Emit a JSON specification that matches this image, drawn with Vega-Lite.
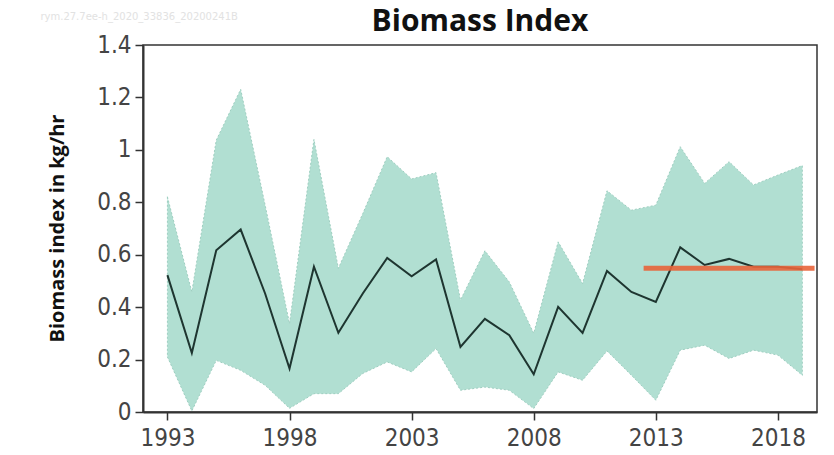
{
  "$schema": "https://vega.github.io/schema/vega-lite/v6.json",
  "width": 674,
  "height": 367,
  "autosize": {"type": "none"},
  "padding": {"left": 143, "top": 45, "right": 17, "bottom": 43},
  "background": "white",
  "title": {
    "text": "Biomass Index",
    "font": "Open Sans",
    "fontSize": 30,
    "fontWeight": "bold",
    "color": "#111",
    "anchor": "middle",
    "baseline": "alphabetic",
    "offset": 14,
    "dy": 63
  },
  "config": {
    "view": {"stroke": "#333", "strokeWidth": 1.5},
    "axis": {
      "grid": false,
      "domainColor": "#333",
      "domainWidth": 2,
      "tickColor": "#333",
      "tickWidth": 1.5,
      "tickSize": 8,
      "labelFont": "Liberation Sans Narrow, DejaVu Sans Condensed, sans-serif",
      "labelFontSize": 24,
      "labelColor": "#444"
    }
  },
  "data": {
    "values": [
      {"year": 1993, "mean": 0.522, "lo": 0.21, "hi": 0.821},
      {"year": 1994, "mean": 0.225, "lo": 0.004, "hi": 0.458},
      {"year": 1995, "mean": 0.617, "lo": 0.197, "hi": 1.037},
      {"year": 1996, "mean": 0.696, "lo": 0.159, "hi": 1.231},
      {"year": 1997, "mean": 0.452, "lo": 0.102, "hi": 0.79},
      {"year": 1998, "mean": 0.166, "lo": 0.014, "hi": 0.337},
      {"year": 1999, "mean": 0.554, "lo": 0.07, "hi": 1.04},
      {"year": 2000, "mean": 0.302, "lo": 0.07, "hi": 0.548},
      {"year": 2001, "mean": 0.452, "lo": 0.147, "hi": 0.757},
      {"year": 2002, "mean": 0.588, "lo": 0.191, "hi": 0.974},
      {"year": 2003, "mean": 0.518, "lo": 0.153, "hi": 0.889},
      {"year": 2004, "mean": 0.582, "lo": 0.242, "hi": 0.913},
      {"year": 2005, "mean": 0.248, "lo": 0.083, "hi": 0.427},
      {"year": 2006, "mean": 0.355, "lo": 0.095, "hi": 0.615},
      {"year": 2007, "mean": 0.293, "lo": 0.083, "hi": 0.496},
      {"year": 2008, "mean": 0.144, "lo": 0.013, "hi": 0.3},
      {"year": 2009, "mean": 0.401, "lo": 0.153, "hi": 0.649},
      {"year": 2010, "mean": 0.302, "lo": 0.121, "hi": 0.49},
      {"year": 2011, "mean": 0.538, "lo": 0.233, "hi": 0.844},
      {"year": 2012, "mean": 0.458, "lo": 0.14, "hi": 0.77},
      {"year": 2013, "mean": 0.42, "lo": 0.045, "hi": 0.789},
      {"year": 2014, "mean": 0.628, "lo": 0.236, "hi": 1.012},
      {"year": 2015, "mean": 0.561, "lo": 0.255, "hi": 0.872},
      {"year": 2016, "mean": 0.584, "lo": 0.204, "hi": 0.955},
      {"year": 2017, "mean": 0.554, "lo": 0.236, "hi": 0.866},
      {"year": 2018, "mean": 0.554, "lo": 0.217, "hi": 0.904},
      {"year": 2019, "mean": 0.545, "lo": 0.14, "hi": 0.94}
    ]
  },
  "encoding": {
    "x": {
      "field": "year",
      "type": "quantitative",
      "scale": {"domain": [1992, 2019.6], "nice": false, "zero": false},
      "axis": {"values": [1993, 1998, 2003, 2008, 2013, 2018], "format": "d", "title": null, "labelPadding": 6}
    }
  },
  "layer": [
    {
      "mark": {"type": "area", "color": "#b1dfd2", "opacity": 1, "stroke": "#9fcfc1", "strokeWidth": 1, "strokeDash": [2, 2]},
      "encoding": {
        "y": {
          "field": "hi",
          "type": "quantitative",
          "scale": {"domain": [0, 1.4], "nice": false},
          "axis": {
            "values": [0, 0.2, 0.4, 0.6, 0.8, 1, 1.2, 1.4],
            "format": ".1~f",
            "labelPadding": 4,
            "title": "Biomass index in kg/hr",
            "titleFont": "Open Sans",
            "titleFontSize": 20,
            "titleFontWeight": "bold",
            "titleColor": "#111",
            "titleAngle": -90,
            "titleAlign": "center",
            "titleBaseline": "alphabetic",
            "titleX": -80,
            "titleY": 183
          }
        },
        "y2": {"field": "lo"}
      }
    },
    {
      "mark": {"type": "line", "color": "#1e3530", "strokeWidth": 2},
      "encoding": {"y": {"field": "mean", "type": "quantitative"}}
    },
    {
      "data": {"values": [{"year": 2012.5, "ref": 0.548}, {"year": 2019.5, "ref": 0.548}]},
      "mark": {"type": "line", "color": "#e8643a", "strokeWidth": 5, "opacity": 0.9},
      "encoding": {"y": {"field": "ref", "type": "quantitative"}}
    },
    {
      "data": {"values": [{"year": 1987.8, "pos": 1.507, "label": "rym.27.7ee-h_2020_33836_20200241B"}]},
      "mark": {"type": "text", "align": "left", "baseline": "middle", "fontSize": 10, "color": "#e2e2e2", "font": "DejaVu Sans"},
      "encoding": {
        "y": {"field": "pos", "type": "quantitative"},
        "text": {"field": "label"}
      }
    }
  ]
}
